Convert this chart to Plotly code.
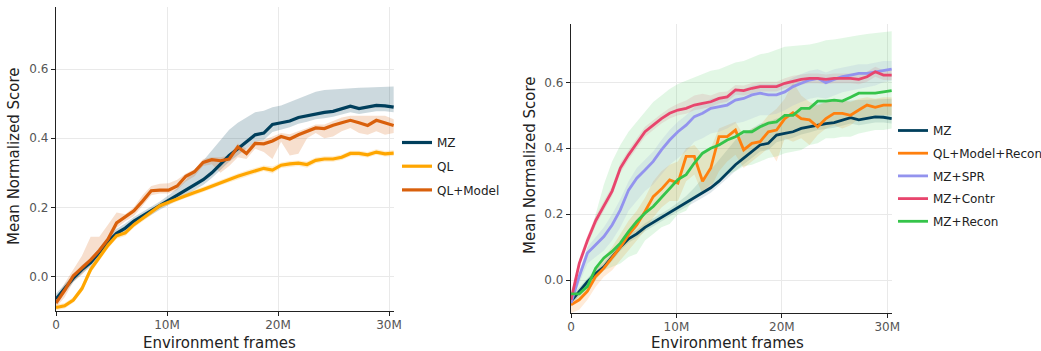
import plotly.graph_objects as go

# ---------------- data ----------------
FRAMES_M = [0.00, 0.78, 1.56, 2.34, 3.12, 3.90, 4.68, 5.46, 6.24, 7.02,
            7.80, 8.58, 9.36, 10.14, 10.92, 11.70, 12.48, 13.26, 14.04, 14.82,
            15.60, 16.38, 17.16, 17.94, 18.72, 19.50, 20.28, 21.06, 21.84, 22.62,
            23.40, 24.18, 24.96, 25.74, 26.52, 27.30, 28.08, 28.86, 29.64, 30.42]

X_TICKS = [0, 10, 20, 30]
X_TICK_LABELS = ["0", "10M", "20M", "30M"]
Y_TICKS = [0.0, 0.2, 0.4, 0.6]
Y_TICK_LABELS = ["0.0", "0.2", "0.4", "0.6"]

MZ = [-0.065, -0.035, -0.005, 0.02, 0.04, 0.07, 0.10, 0.125, 0.14, 0.16,
      0.175, 0.19, 0.205, 0.22, 0.235, 0.25, 0.265, 0.28, 0.30, 0.325,
      0.35, 0.37, 0.39, 0.41, 0.415, 0.44, 0.445, 0.45, 0.46, 0.465,
      0.472, 0.475, 0.478, 0.485, 0.493, 0.486, 0.49, 0.495, 0.494, 0.49]
MZ_HI = [-0.05, -0.022, 0.008, 0.033, 0.053, 0.083, 0.113, 0.138, 0.153, 0.172,
         0.187, 0.202, 0.217, 0.235, 0.255, 0.28, 0.31, 0.335, 0.365, 0.395,
         0.425, 0.445, 0.46, 0.475, 0.48, 0.49, 0.495, 0.505, 0.515, 0.525,
         0.535, 0.54, 0.542, 0.543, 0.545, 0.546, 0.547, 0.548, 0.55, 0.55]
MZ_LO = [-0.08, -0.048, -0.017, 0.008, 0.028, 0.058, 0.088, 0.113, 0.128, 0.148,
         0.163, 0.178, 0.193, 0.207, 0.222, 0.235, 0.25, 0.265, 0.285, 0.308,
         0.332, 0.35, 0.37, 0.39, 0.395, 0.418, 0.425, 0.432, 0.442, 0.448,
         0.455, 0.458, 0.462, 0.468, 0.475, 0.47, 0.474, 0.478, 0.478, 0.475]

QL = [-0.09, -0.085, -0.068, -0.035, 0.02, 0.055, 0.09, 0.118, 0.126, 0.15,
      0.168, 0.185, 0.205, 0.215, 0.225, 0.235, 0.243, 0.252, 0.262, 0.272,
      0.282, 0.29, 0.298, 0.305, 0.313, 0.308, 0.322, 0.326, 0.328, 0.324,
      0.336, 0.34, 0.34, 0.345, 0.356, 0.356, 0.352, 0.36, 0.355, 0.357]
QL_HI = [-0.082, -0.077, -0.06, -0.026, 0.03, 0.064, 0.099, 0.127, 0.135, 0.158,
         0.176, 0.193, 0.213, 0.223, 0.233, 0.243, 0.251, 0.26, 0.27, 0.28,
         0.29, 0.298, 0.307, 0.313, 0.321, 0.318, 0.33, 0.334, 0.336, 0.333,
         0.344, 0.348, 0.348, 0.353, 0.364, 0.364, 0.36, 0.368, 0.363, 0.365]
QL_LO = [-0.098, -0.093, -0.076, -0.044, 0.01, 0.046, 0.081, 0.109, 0.117, 0.142,
         0.16, 0.177, 0.197, 0.207, 0.217, 0.227, 0.235, 0.244, 0.254, 0.264,
         0.274, 0.282, 0.289, 0.297, 0.305, 0.298, 0.314, 0.318, 0.32, 0.315,
         0.328, 0.332, 0.332, 0.337, 0.348, 0.348, 0.344, 0.352, 0.347, 0.349]

QLM = [-0.077, -0.04, 0.002, 0.025, 0.048, 0.075, 0.108, 0.155, 0.172, 0.19,
       0.218, 0.248, 0.25, 0.25, 0.262, 0.29, 0.303, 0.33, 0.338, 0.335,
       0.34, 0.375, 0.356, 0.385, 0.384, 0.392, 0.405, 0.398, 0.41, 0.42,
       0.43, 0.428, 0.438, 0.445, 0.452, 0.445, 0.437, 0.452, 0.445, 0.437]
QLM_HI = [-0.065, -0.02, 0.02, 0.06, 0.115, 0.115, 0.15, 0.185, 0.18, 0.20,
          0.235, 0.262, 0.268, 0.27, 0.28, 0.298, 0.31, 0.34, 0.345, 0.345,
          0.35, 0.385, 0.37, 0.392, 0.395, 0.405, 0.415, 0.412, 0.42, 0.43,
          0.44, 0.44, 0.45, 0.46, 0.465, 0.465, 0.465, 0.465, 0.465, 0.455]
QLM_LO = [-0.09, -0.06, -0.015, 0.005, 0.035, 0.06, 0.09, 0.14, 0.16, 0.175,
          0.205, 0.235, 0.24, 0.24, 0.25, 0.275, 0.29, 0.32, 0.325, 0.30,
          0.32, 0.345, 0.34, 0.37, 0.36, 0.34, 0.39, 0.35, 0.355, 0.40,
          0.415, 0.40, 0.405, 0.42, 0.43, 0.415, 0.41, 0.42, 0.41, 0.415]

QLMR = [-0.075, -0.06, -0.034, 0.011, 0.036, 0.067, 0.10, 0.137, 0.167, 0.208,
        0.253, 0.276, 0.304, 0.294, 0.375, 0.375, 0.30, 0.34, 0.435, 0.435,
        0.455, 0.395, 0.415, 0.42, 0.45, 0.455, 0.49, 0.508, 0.49, 0.486,
        0.465, 0.49, 0.506, 0.506, 0.50, 0.516, 0.531, 0.524, 0.531, 0.531]
QLMR_HI = [-0.06, -0.04, -0.01, 0.04, 0.07, 0.10, 0.14, 0.18, 0.21, 0.25,
           0.30, 0.33, 0.35, 0.36, 0.40, 0.41, 0.38, 0.40, 0.46, 0.47,
           0.48, 0.44, 0.46, 0.47, 0.50, 0.52, 0.55, 0.60, 0.56, 0.54,
           0.53, 0.54, 0.545, 0.545, 0.54, 0.55, 0.555, 0.55, 0.555, 0.555]
QLMR_LO = [-0.10, -0.09, -0.06, -0.02, 0.01, 0.03, 0.06, 0.09, 0.12, 0.15,
           0.19, 0.22, 0.24, 0.24, 0.30, 0.32, 0.26, 0.28, 0.33, 0.36,
           0.38, 0.34, 0.36, 0.38, 0.40, 0.36, 0.43, 0.42, 0.43, 0.41,
           0.44, 0.46, 0.47, 0.46, 0.47, 0.49, 0.49, 0.50, 0.50, 0.50]

SPR = [-0.07, 0.011, 0.082, 0.107, 0.132, 0.167, 0.213, 0.273, 0.309, 0.334,
       0.36, 0.395, 0.425, 0.45, 0.47, 0.496, 0.506, 0.521, 0.526, 0.531,
       0.546, 0.551, 0.562, 0.567, 0.562, 0.562, 0.571, 0.587, 0.597, 0.607,
       0.612, 0.599, 0.609, 0.617, 0.622, 0.627, 0.627, 0.632, 0.637, 0.64]
SPR_HI = [-0.06, 0.03, 0.10, 0.13, 0.16, 0.20, 0.245, 0.30, 0.34, 0.365,
          0.39, 0.425, 0.455, 0.48, 0.50, 0.525, 0.535, 0.55, 0.555, 0.56,
          0.575, 0.58, 0.59, 0.595, 0.595, 0.595, 0.60, 0.615, 0.625, 0.635,
          0.64, 0.63, 0.64, 0.645, 0.65, 0.655, 0.655, 0.66, 0.665, 0.665]
SPR_LO = [-0.08, -0.01, 0.05, 0.07, 0.09, 0.12, 0.16, 0.21, 0.24, 0.27,
          0.29, 0.32, 0.35, 0.37, 0.39, 0.42, 0.43, 0.445, 0.45, 0.46,
          0.475, 0.48, 0.49, 0.50, 0.50, 0.505, 0.515, 0.53, 0.54, 0.55,
          0.555, 0.55, 0.56, 0.57, 0.575, 0.58, 0.585, 0.59, 0.6, 0.605]

CONTR = [-0.06, 0.05, 0.12, 0.18, 0.225, 0.27, 0.34, 0.38, 0.415, 0.45,
         0.47, 0.49, 0.506, 0.516, 0.521, 0.531, 0.536, 0.541, 0.551, 0.556,
         0.577, 0.575, 0.582, 0.587, 0.587, 0.587, 0.597, 0.604, 0.609, 0.612,
         0.612, 0.609, 0.612, 0.612, 0.612, 0.609, 0.617, 0.632, 0.622, 0.622]
CONTR_HI = [-0.045, 0.065, 0.135, 0.195, 0.24, 0.285, 0.355, 0.395, 0.43, 0.465,
            0.485, 0.505, 0.522, 0.535, 0.545, 0.56, 0.565, 0.56, 0.57, 0.572,
            0.592, 0.59, 0.598, 0.602, 0.602, 0.602, 0.612, 0.62, 0.624, 0.627,
            0.627, 0.624, 0.627, 0.627, 0.627, 0.624, 0.632, 0.647, 0.637, 0.637]
CONTR_LO = [-0.075, 0.035, 0.105, 0.165, 0.21, 0.255, 0.325, 0.365, 0.40, 0.435,
            0.455, 0.475, 0.49, 0.5, 0.505, 0.515, 0.52, 0.526, 0.536, 0.541,
            0.562, 0.56, 0.567, 0.572, 0.572, 0.572, 0.582, 0.589, 0.594, 0.597,
            0.597, 0.594, 0.597, 0.597, 0.597, 0.594, 0.602, 0.617, 0.607, 0.607]

RECON = [-0.042, -0.042, -0.019, 0.036, 0.067, 0.087, 0.112, 0.147, 0.178, 0.203,
         0.223, 0.25, 0.28, 0.305, 0.32, 0.355, 0.385, 0.40, 0.41, 0.425,
         0.435, 0.45, 0.45, 0.465, 0.476, 0.48, 0.50, 0.50, 0.521, 0.521,
         0.543, 0.543, 0.546, 0.543, 0.555, 0.567, 0.567, 0.567, 0.571, 0.575]
RECON_HI = [-0.03, 0.02, 0.10, 0.20, 0.29, 0.36, 0.41, 0.45, 0.48, 0.51,
            0.54, 0.56, 0.58, 0.595, 0.605, 0.615, 0.625, 0.635, 0.64, 0.65,
            0.66, 0.665, 0.675, 0.685, 0.69, 0.70, 0.708, 0.71, 0.712, 0.715,
            0.72, 0.728, 0.73, 0.735, 0.74, 0.743, 0.747, 0.75, 0.752, 0.755]
RECON_LO = [-0.06, -0.06, -0.04, 0.0, 0.03, 0.04, 0.05, 0.07, 0.08, 0.12,
            0.14, 0.16, 0.17, 0.2, 0.21, 0.25, 0.27, 0.29, 0.3, 0.32,
            0.33, 0.345, 0.35, 0.36, 0.37, 0.375, 0.385, 0.39, 0.395, 0.41,
            0.415, 0.43, 0.43, 0.435, 0.435, 0.445, 0.45, 0.455, 0.455, 0.46]

# name, mean, hi, lo, color, band rgba
LEFT_SERIES = [
    ("MZ", MZ, MZ_HI, MZ_LO, "#003f5c", "rgba(0,63,92,0.20)"),
    ("QL", QL, QL_HI, QL_LO, "#ffa600", "rgba(255,166,0,0.20)"),
    ("QL+Model", QLM, QLM_HI, QLM_LO, "#d9600c", "rgba(217,96,12,0.20)"),
]
RIGHT_SERIES = [
    ("MZ", MZ, MZ_HI, MZ_LO, "#003f5c", "rgba(0,63,92,0.12)"),
    ("QL+Model+Recon", QLMR, QLMR_HI, QLMR_LO, "#ff800e", "rgba(255,128,14,0.16)"),
    ("MZ+SPR", SPR, SPR_HI, SPR_LO, "#9393ee", "rgba(147,147,238,0.16)"),
    ("MZ+Contr", CONTR, CONTR_HI, CONTR_LO, "#e8456d", "rgba(232,69,109,0.14)"),
    ("MZ+Recon", RECON, RECON_HI, RECON_LO, "#35c44a", "rgba(53,196,74,0.14)"),
]

FONT = "DejaVu Sans"
fig = go.Figure()


def add_panel(series, xa, ya, legend, prefix, lw):
    # bands first
    for name, m, hi, lo, col, band in series:
        fig.add_trace(go.Scatter(
            x=FRAMES_M + FRAMES_M[::-1], y=hi + lo[::-1], fill="toself",
            fillcolor=band, line=dict(width=0), mode="lines",
            hoverinfo="skip", showlegend=False, legendgroup=prefix + name,
            xaxis=xa, yaxis=ya, legend=legend))
    for name, m, hi, lo, col, band in series:
        fig.add_trace(go.Scatter(
            x=FRAMES_M, y=m, mode="lines", name=name,
            line=dict(color=col, width=lw), legendgroup=prefix + name,
            xaxis=xa, yaxis=ya, legend=legend))


add_panel(LEFT_SERIES, "x", "y", "legend", "L_", 3.2)
add_panel(RIGHT_SERIES, "x2", "y2", "legend2", "R_", 2.8)

W, H = 1041, 351

axis_common = dict(
    showline=True, linecolor="#222", linewidth=1.3, mirror=False,
    ticks="outside", ticklen=4, tickwidth=1, tickcolor="#222",
    showgrid=True, gridcolor="#e9e9e9", gridwidth=1, zeroline=False,
    tickfont=dict(family=FONT, size=12, color="#555"),
)
x_extra = dict(ticklabelstandoff=-2)

fig.update_layout(
    width=W, height=H,
    margin=dict(l=0, r=0, t=0, b=0, autoexpand=False),
    paper_bgcolor="white", plot_bgcolor="white",
    font=dict(family=FONT, color="#222"),
    xaxis=dict(domain=[56 / W, 394 / W], range=[0, 30.45], anchor="y",
               tickvals=X_TICKS, ticktext=X_TICK_LABELS, **axis_common, **x_extra),
    yaxis=dict(domain=[(H - 311) / H, (H - 7) / H], range=[-0.1, 0.78], anchor="x",
               tickvals=Y_TICKS, ticktext=Y_TICK_LABELS, **axis_common),
    xaxis2=dict(domain=[571 / W, 892 / W], range=[0, 30.45], anchor="y2",
                tickvals=X_TICKS, ticktext=X_TICK_LABELS, **axis_common, **x_extra),
    yaxis2=dict(domain=[(H - 313) / H, (H - 24) / H], range=[-0.1, 0.777], anchor="x2",
                tickvals=Y_TICKS, ticktext=Y_TICK_LABELS, **axis_common),
    legend=dict(x=397 / W, y=1 - 128 / H, xanchor="left", yanchor="top",
                bgcolor="rgba(0,0,0,0)", font=dict(family=FONT, size=12, color="#222"),
                tracegroupgap=4.7, itemwidth=30),
    legend2=dict(x=893 / W, y=1 - 116 / H, xanchor="left", yanchor="top",
                 bgcolor="rgba(0,0,0,0)", font=dict(family=FONT, size=12, color="#222"),
                 tracegroupgap=3.7, itemwidth=30),
)

title_font = dict(family=FONT, size=15, color="#222")
annots = [
    dict(text="Mean Normalized Score", x=14 / W, y=1 - 157 / H, textangle=-90),
    dict(text="Mean Normalized Score", x=530 / W, y=1 - 166 / H, textangle=-90),
    dict(text="Environment frames", x=219 / W, y=1 - 343 / H),
    dict(text="Environment frames", x=727 / W, y=1 - 343 / H),
]
for a in annots:
    fig.add_annotation(xref="paper", yref="paper", showarrow=False,
                       xanchor="center", yanchor="middle", font=title_font, **a)

fig.write_html(
    "out.html",
    config={"displayModeBar": False},
    post_script="document.body.style.margin='0';document.body.style.overflow='hidden';",
)
